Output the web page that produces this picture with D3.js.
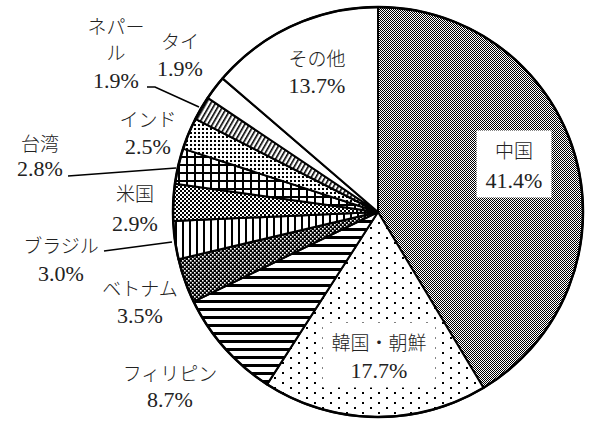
<!DOCTYPE html>
<html><head><meta charset="utf-8">
<script src="https://cdn.jsdelivr.net/npm/d3@7"></script>
<style>
body{margin:0;background:#fff}svg{display:block}
.jp{font-family:"Noto Sans CJK JP Light","Noto Sans CJK JP DemiLight","Noto Sans CJK JP","Noto Sans CJK SC",sans-serif;font-weight:300;font-size:19px;fill:#222}
.num{font-family:"Liberation Serif","Times New Roman","DejaVu Serif",serif;font-weight:400;font-size:22px;fill:#222}
</style>
</head><body>
<svg id="c" width="589" height="421"></svg>
<script>
// ---- data ----
const categories = ["中国","韓国・朝鮮","フィリピン","ベトナム","ブラジル","米国","台湾","インド","ネパール","タイ","その他"];
const nameLines = [["中国"],["韓国・朝鮮"],["フィリピン"],["ベトナム"],["ブラジル"],["米国"],["台湾"],["インド"],["ネパー","ル"],["タイ"],["その他"]];
const shares = [41.4,17.7,8.7,3.5,3.0,2.9,2.8,2.5,1.9,1.9,13.7];
const shareLabels = ["41.4%","17.7%","8.7%","3.5%","3.0%","2.9%","2.8%","2.5%","1.9%","1.9%","13.7%"];

// ---- layout ----
const W = 589, H = 421, cx = 378, cy = 212, R = 205;
const labelPos = {
  "中国": {x:514, ys:[149,180], box:true},
  "韓国・朝鮮": {x:379, ys:[341,370], box:true},
  "フィリピン": {x:170, ys:[372,399]},
  "ベトナム": {x:140, ys:[287,315]},
  "ブラジル": {x:61, ys:[244,273]},
  "米国": {x:135, ys:[192,223]},
  "台湾": {x:40, ys:[142,168]},
  "インド": {x:148, ys:[118,146]},
  "ネパール": {x:116, ys:[25,51,80]},
  "タイ": {x:180, ys:[40,68]},
  "その他": {x:317, ys:[57,85]}
};
const leaders = {
  "ネパール": [[147,87],[155,87],[199,107]],
  "台湾": [[68,176],[176,168]],
  "ブラジル": [[104,251],[172,242]]
};

const svg = d3.select("#c");
svg.append("rect").attr("width",W).attr("height",H).attr("fill","#fff");
const defs = svg.append("defs");

function pat(id, w, h, build, transform){
  const p = defs.append("pattern").attr("id",id).attr("patternUnits","userSpaceOnUse")
    .attr("width",w).attr("height",h);
  if (transform) p.attr("patternTransform",transform);
  p.append("rect").attr("width",w).attr("height",h).attr("fill","#fff");
  build(p);
  return "url(#"+id+")";
}
const blk = (p,x,y,w,h)=>p.append("rect").attr("x",x).attr("y",y).attr("width",w).attr("height",h).attr("fill","#000").attr("shape-rendering","crispEdges");

const fills = [
  pat("p0",2,2,p=>{blk(p,0,0,1,1);blk(p,1,1,1,1);}),
  pat("p1",16,10,p=>{blk(p,0,0,2,2);blk(p,8,5,2,2);}),
  pat("p2",8,8,p=>{blk(p,0,0,8,3);}),
  pat("p3",4,4,p=>{p.select("rect").attr("fill","#000");
     p.append("rect").attr("x",0).attr("y",0).attr("width",1.6).attr("height",1.6).attr("fill","#fff");
     p.append("rect").attr("x",2).attr("y",2).attr("width",1.6).attr("height",1.6).attr("fill","#fff");}),
  pat("p4",7,7,p=>{blk(p,0,0,2,7);}),
  pat("p5",4,4,p=>{blk(p,0,0,2,2);blk(p,2,2,2,2);}),
  pat("p6",8,8,p=>{blk(p,0,0,8,2);blk(p,0,0,2,8);}),
  pat("p7",4,4,p=>{blk(p,0,0,2,2);}),
  pat("p8",4,4,p=>{p.append("rect").attr("x",0).attr("y",0).attr("width",1.6).attr("height",4).attr("fill","#000");},"rotate(30)"),
  "#fff",
  "#fff"
];

const data = categories.map((c,i)=>({name:c, value:shares[i], fill:fills[i], lines:nameLines[i], pct:shareLabels[i]}));
const pie = d3.pie().sort(null).value(d=>d.value);
const arc = d3.arc().innerRadius(0).outerRadius(R);

const g = svg.append("g").attr("transform",`translate(${cx},${cy})`);
g.selectAll("path.slice").data(pie(data)).join("path")
  .attr("class","slice")
  .attr("d",arc)
  .attr("fill",d=>d.data.fill)
  .attr("stroke","#000").attr("stroke-width",2).attr("stroke-linejoin","round");
g.append("circle").attr("r",R).attr("fill","none").attr("stroke","#000").attr("stroke-width",2.5);

// leader lines
const lineGen = d3.line();
Object.entries(leaders).forEach(([k,pts])=>{
  svg.append("path").attr("d",lineGen(pts)).attr("fill","none").attr("stroke","#000").attr("stroke-width",1.6);
});

// labels
data.forEach(d=>{
  const lp = labelPos[d.name];
  const lg = svg.append("g");
  const texts = d.lines.concat([d.pct]);
  texts.forEach((t,i)=>{
    const isNum = i===texts.length-1;
    lg.append("text").attr("x",lp.x).attr("y",lp.ys[i])
      .attr("text-anchor","middle").attr("dominant-baseline","central")
      .attr("class", isNum?"num":"jp")
      .text(t);
  });
  if (lp.box){
    const bb = lg.node().getBBox();
    lg.insert("rect",":first-child")
      .attr("x",bb.x-9).attr("y",bb.y-5).attr("width",bb.width+18).attr("height",bb.height+10)
      .attr("fill","#fff");
  }
});
</script>
</body></html>
